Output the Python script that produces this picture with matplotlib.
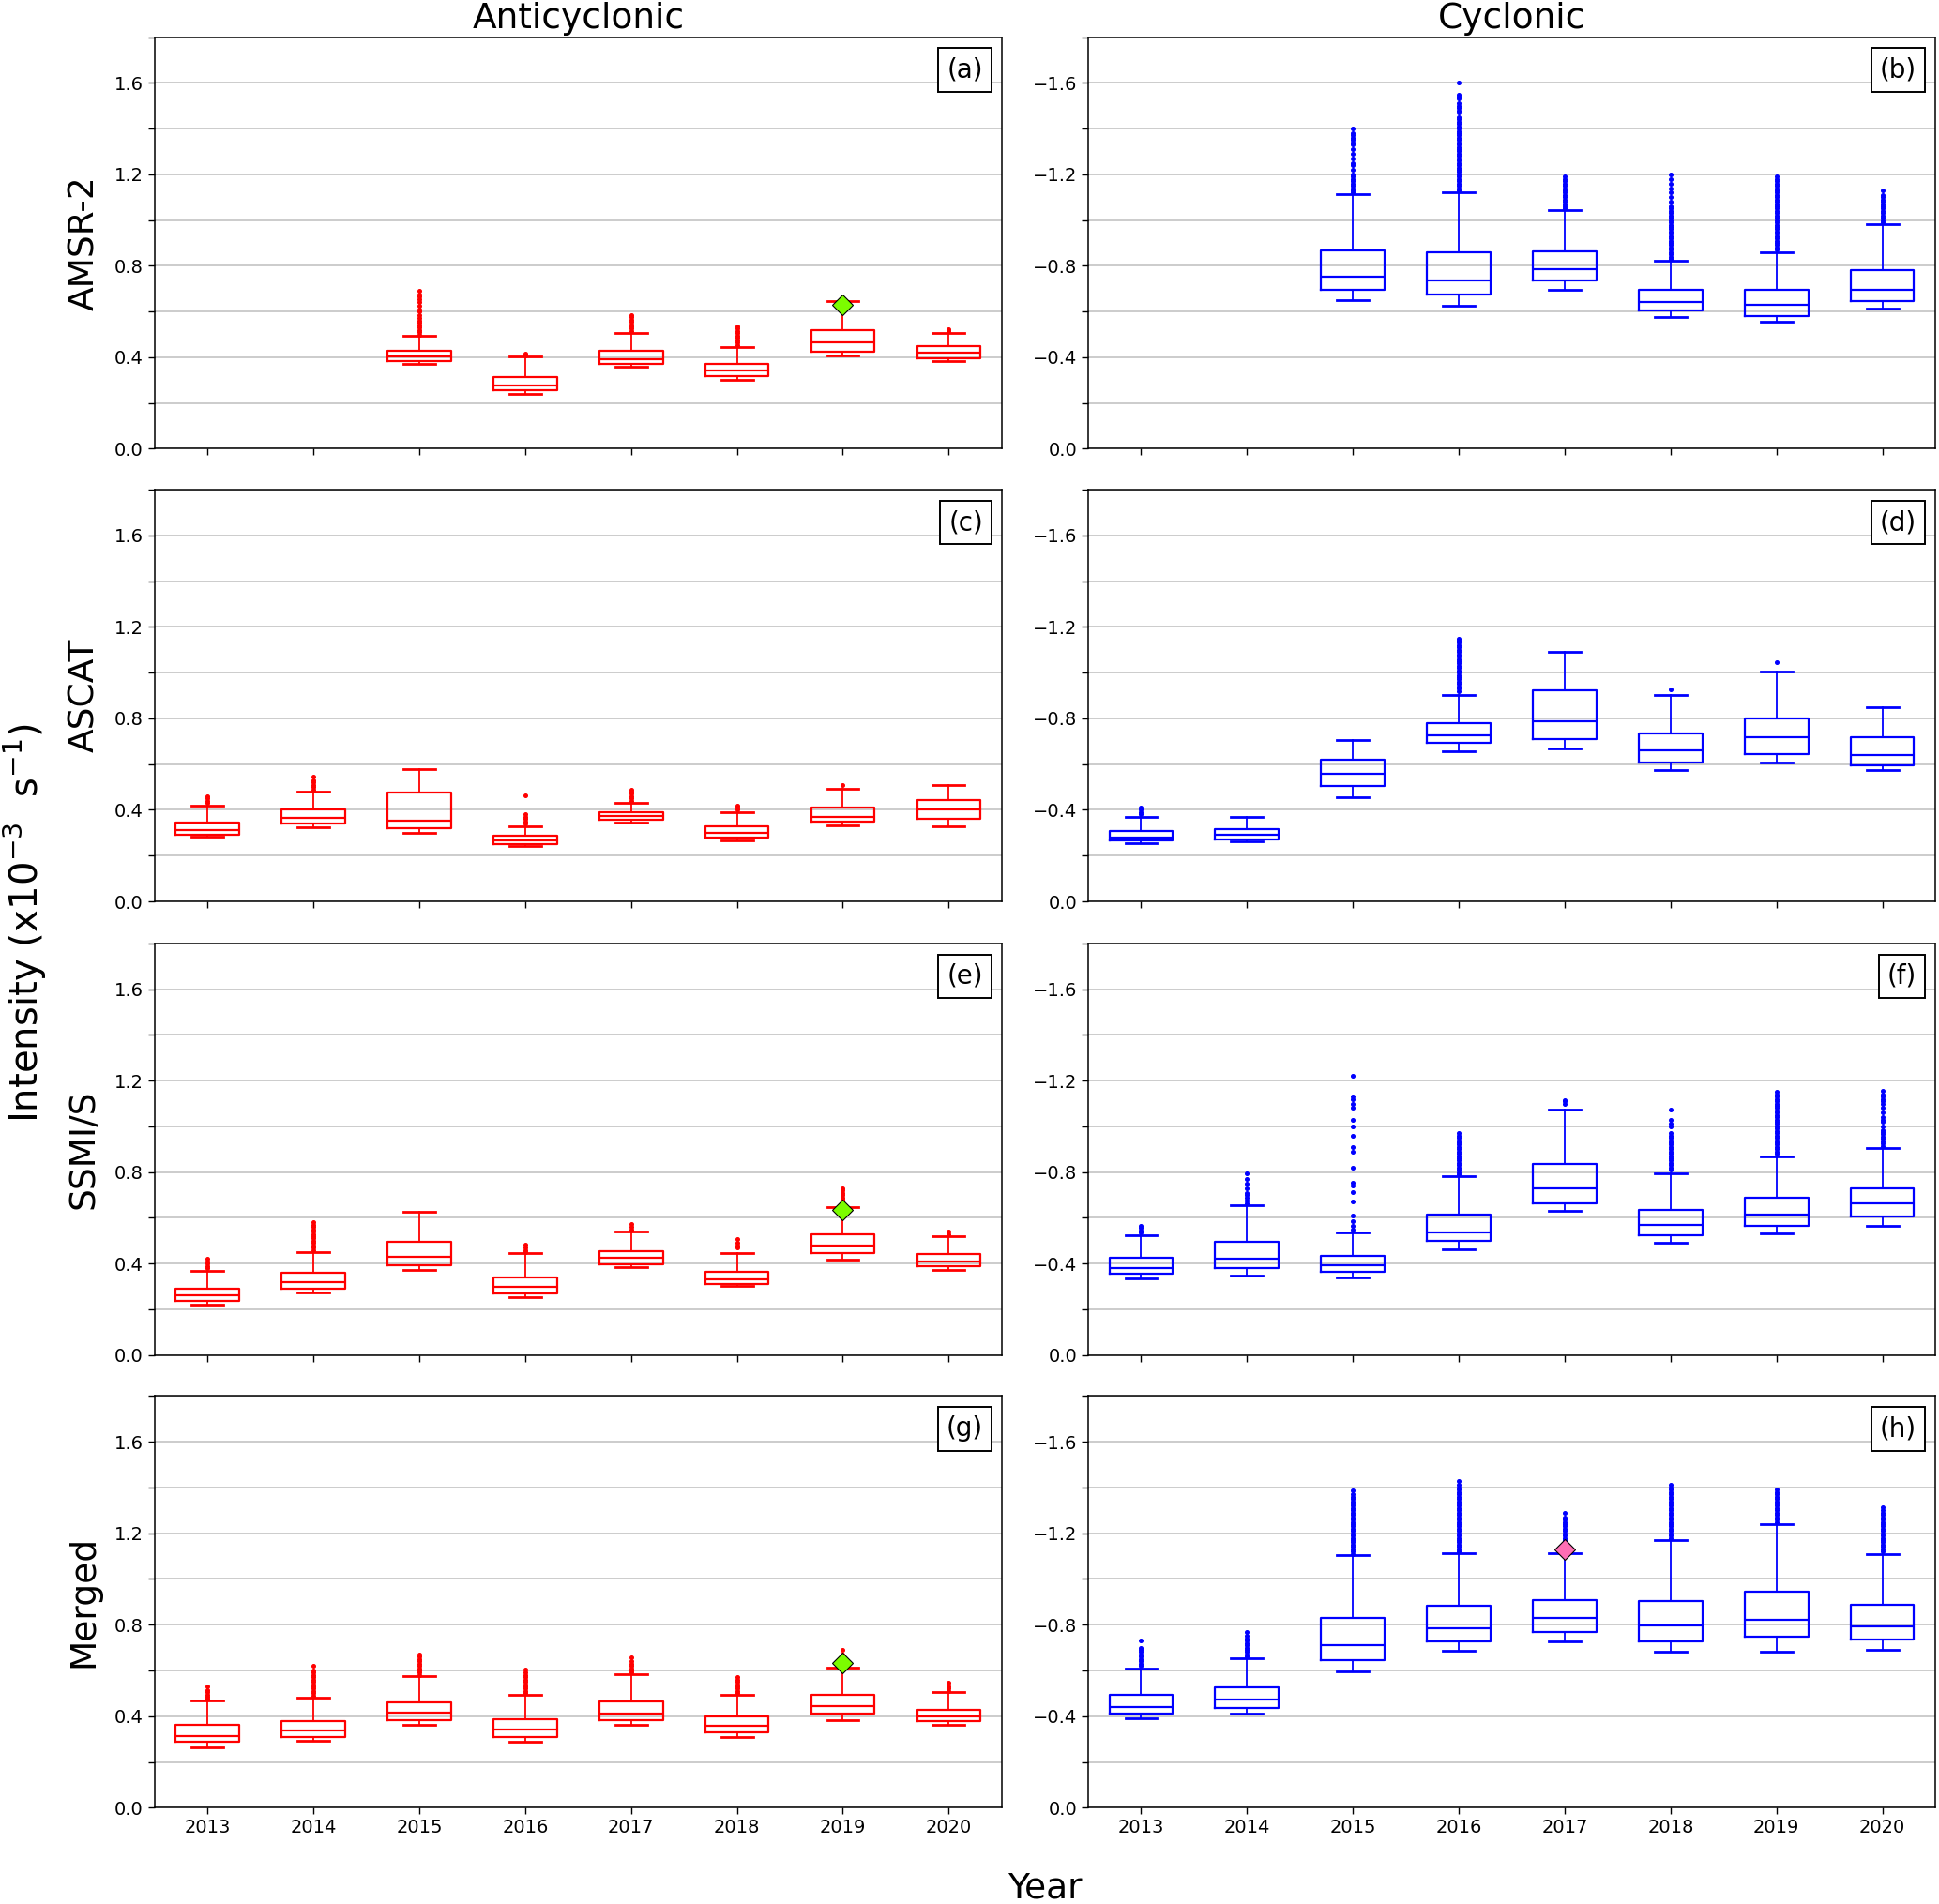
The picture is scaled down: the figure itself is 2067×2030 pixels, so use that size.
import numpy as np
import matplotlib.pyplot as plt
from matplotlib.ticker import MultipleLocator

years = [2013, 2014, 2015, 2016, 2017, 2018, 2019, 2020]
sensors = ['AMSR-2', 'ASCAT', 'SSMI/S', 'Merged']

# anticyclonic, AMSR-2 (no data 2013, 2014)
a_lo = [None, None, 0.370, 0.238, 0.359, 0.303, 0.408, 0.382]
a_q1 = [None, None, 0.383, 0.255, 0.371, 0.318, 0.424, 0.397]
a_med = [None, None, 0.404, 0.275, 0.392, 0.342, 0.464, 0.422]
a_q3 = [None, None, 0.427, 0.313, 0.427, 0.371, 0.519, 0.448]
a_hi = [None, None, 0.493, 0.402, 0.505, 0.445, 0.646, 0.505]
a_fl = [[], [],
        [0.50, 0.51, 0.52, 0.53, 0.54, 0.55, 0.56, 0.57, 0.585, 0.60, 0.61, 0.625, 0.64, 0.655, 0.665, 0.675, 0.69],
        [0.41, 0.415],
        [0.515, 0.525, 0.535, 0.545, 0.555, 0.565, 0.575, 0.586],
        [0.455, 0.465, 0.475, 0.485, 0.495, 0.505, 0.515, 0.525, 0.535],
        [],
        [0.515, 0.523]]

# cyclonic, AMSR-2 (magnitudes, plotted negative)
b_lo = [None, None, 0.649, 0.624, 0.695, 0.576, 0.554, 0.612]
b_q1 = [None, None, 0.695, 0.675, 0.738, 0.605, 0.582, 0.646]
b_med = [None, None, 0.754, 0.738, 0.786, 0.643, 0.628, 0.697]
b_q3 = [None, None, 0.867, 0.858, 0.862, 0.694, 0.697, 0.783]
b_hi = [None, None, 1.114, 1.121, 1.042, 0.823, 0.861, 0.983]
b_fl = [[], [],
        [1.12, 1.13, 1.14, 1.15, 1.16, 1.17, 1.18, 1.19, 1.20, 1.22, 1.24, 1.25, 1.27, 1.29, 1.31, 1.33, 1.34,
         1.35, 1.36, 1.37, 1.38, 1.40],
        [1.13, 1.14, 1.15, 1.16, 1.17, 1.18, 1.19, 1.20, 1.21, 1.22, 1.23, 1.24, 1.25, 1.26, 1.27, 1.28, 1.29,
         1.30, 1.31, 1.32, 1.33, 1.34, 1.35, 1.36, 1.37, 1.38, 1.39, 1.40, 1.41, 1.42, 1.43, 1.44, 1.45, 1.47,
         1.48, 1.49, 1.50, 1.51, 1.53, 1.54, 1.55, 1.60],
        [1.05, 1.06, 1.07, 1.08, 1.09, 1.10, 1.11, 1.12, 1.13, 1.14, 1.15, 1.16, 1.17, 1.18, 1.19],
        [0.83, 0.84, 0.85, 0.86, 0.87, 0.88, 0.89, 0.90, 0.91, 0.92, 0.93, 0.94, 0.95, 0.96, 0.97, 0.98, 0.99,
         1.00, 1.01, 1.02, 1.03, 1.04, 1.05, 1.06, 1.08, 1.10, 1.12, 1.14, 1.16, 1.18, 1.20],
        [0.87, 0.88, 0.89, 0.90, 0.91, 0.92, 0.93, 0.94, 0.95, 0.96, 0.97, 0.98, 0.99, 1.00, 1.01, 1.02, 1.03,
         1.04, 1.05, 1.06, 1.07, 1.08, 1.09, 1.10, 1.11, 1.12, 1.13, 1.14, 1.15, 1.16, 1.17, 1.18, 1.19],
        [0.99, 1.00, 1.01, 1.02, 1.03, 1.04, 1.05, 1.06, 1.07, 1.08, 1.09, 1.10, 1.11, 1.13]]

# anticyclonic, ASCAT
c_lo = [0.281, 0.326, 0.301, 0.242, 0.345, 0.268, 0.333, 0.329]
c_q1 = [0.290, 0.341, 0.318, 0.252, 0.356, 0.279, 0.349, 0.360]
c_med = [0.311, 0.364, 0.351, 0.267, 0.373, 0.300, 0.371, 0.403]
c_q3 = [0.345, 0.403, 0.474, 0.286, 0.390, 0.327, 0.412, 0.444]
c_hi = [0.420, 0.481, 0.578, 0.329, 0.430, 0.389, 0.493, 0.510]
c_fl = [[0.43, 0.44, 0.45, 0.458],
        [0.49, 0.50, 0.51, 0.52, 0.53, 0.545],
        [],
        [0.34, 0.35, 0.36, 0.37, 0.382, 0.464],
        [0.44, 0.45, 0.46, 0.47, 0.48, 0.489],
        [0.40, 0.41, 0.419],
        [0.508],
        []]

# cyclonic, ASCAT
d_lo = [0.253, 0.262, 0.455, 0.657, 0.667, 0.575, 0.609, 0.575]
d_q1 = [0.265, 0.272, 0.504, 0.693, 0.709, 0.605, 0.643, 0.596]
d_med = [0.277, 0.290, 0.559, 0.725, 0.786, 0.660, 0.717, 0.638]
d_q3 = [0.309, 0.316, 0.620, 0.780, 0.922, 0.736, 0.799, 0.717]
d_hi = [0.370, 0.370, 0.706, 0.904, 1.090, 0.902, 1.003, 0.848]
d_fl = [[0.38, 0.39, 0.40, 0.41],
        [],
        [],
        [0.92, 0.93, 0.94, 0.95, 0.96, 0.97, 0.98, 0.99, 1.00, 1.01, 1.02, 1.03, 1.04, 1.05, 1.06, 1.07, 1.08,
         1.09, 1.10, 1.11, 1.12, 1.13, 1.14, 1.148],
        [],
        [0.928],
        [1.044],
        []]

# anticyclonic, SSMI/S
e_lo = [0.220, 0.272, 0.372, 0.255, 0.384, 0.302, 0.419, 0.372]
e_q1 = [0.236, 0.290, 0.393, 0.270, 0.398, 0.311, 0.447, 0.387]
e_med = [0.260, 0.318, 0.430, 0.298, 0.425, 0.332, 0.480, 0.411]
e_q3 = [0.291, 0.358, 0.497, 0.340, 0.456, 0.366, 0.530, 0.441]
e_hi = [0.369, 0.451, 0.627, 0.444, 0.542, 0.444, 0.648, 0.519]
e_fl = [[0.38, 0.39, 0.40, 0.41, 0.421],
        [0.46, 0.47, 0.48, 0.49, 0.50, 0.51, 0.52, 0.53, 0.54, 0.55, 0.56, 0.57, 0.583],
        [],
        [0.45, 0.46, 0.47, 0.481],
        [0.55, 0.56, 0.575],
        [0.47, 0.48, 0.49, 0.508],
        [0.66, 0.67, 0.68, 0.69, 0.70, 0.71, 0.72, 0.731],
        [0.53, 0.542]]

# cyclonic, SSMI/S
f_lo = [0.336, 0.348, 0.341, 0.464, 0.630, 0.493, 0.533, 0.565]
f_q1 = [0.354, 0.380, 0.363, 0.498, 0.663, 0.524, 0.567, 0.605]
f_med = [0.381, 0.420, 0.392, 0.536, 0.728, 0.569, 0.615, 0.663]
f_q3 = [0.424, 0.495, 0.434, 0.615, 0.834, 0.633, 0.690, 0.728]
f_hi = [0.524, 0.656, 0.537, 0.782, 1.073, 0.796, 0.868, 0.905]
f_fl = [[0.535, 0.545, 0.555, 0.567],
        [0.665, 0.675, 0.69, 0.70, 0.71, 0.73, 0.75, 0.77, 0.793],
        [0.55, 0.565, 0.585, 0.61, 0.67, 0.714, 0.741, 0.755, 0.82, 0.887, 0.909, 0.959, 1.0, 1.027, 1.082,
         1.10, 1.12, 1.13, 1.22],
        [0.79, 0.80, 0.81, 0.82, 0.83, 0.84, 0.85, 0.86, 0.87, 0.88, 0.89, 0.90, 0.91, 0.92, 0.93, 0.94, 0.95,
         0.96, 0.97],
        [1.10, 1.11, 1.116],
        [0.81, 0.82, 0.83, 0.84, 0.85, 0.86, 0.87, 0.88, 0.89, 0.90, 0.91, 0.92, 0.93, 0.94, 0.95, 0.96, 0.97,
         1.00, 1.01, 1.03, 1.075],
        [0.88, 0.89, 0.90, 0.91, 0.92, 0.93, 0.94, 0.95, 0.96, 0.97, 0.98, 0.99, 1.00, 1.01, 1.02, 1.03, 1.04,
         1.05, 1.06, 1.07, 1.08, 1.09, 1.10, 1.11, 1.12, 1.13, 1.14, 1.152],
        [0.915, 0.925, 0.935, 0.945, 0.955, 0.965, 0.975, 0.985, 1.00, 1.02, 1.03, 1.04, 1.06, 1.08, 1.10, 1.11,
         1.12, 1.13, 1.14, 1.156]]

# anticyclonic, merged
g_lo = [0.265, 0.292, 0.361, 0.288, 0.363, 0.310, 0.383, 0.361]
g_q1 = [0.287, 0.309, 0.381, 0.309, 0.381, 0.331, 0.410, 0.377]
g_med = [0.313, 0.336, 0.414, 0.342, 0.411, 0.358, 0.445, 0.399]
g_q3 = [0.361, 0.380, 0.459, 0.388, 0.464, 0.399, 0.492, 0.426]
g_hi = [0.467, 0.481, 0.574, 0.492, 0.583, 0.492, 0.612, 0.504]
g_fl = [[0.475, 0.485, 0.495, 0.505, 0.515, 0.53],
        [0.49, 0.50, 0.51, 0.52, 0.53, 0.54, 0.55, 0.56, 0.57, 0.58, 0.59, 0.60, 0.62],
        [0.58, 0.59, 0.60, 0.61, 0.62, 0.63, 0.64, 0.65, 0.66, 0.668],
        [0.50, 0.51, 0.52, 0.53, 0.54, 0.55, 0.56, 0.57, 0.58, 0.59, 0.604],
        [0.59, 0.60, 0.61, 0.62, 0.63, 0.64, 0.657],
        [0.50, 0.51, 0.52, 0.53, 0.54, 0.55, 0.56, 0.57],
        [0.62, 0.63, 0.64, 0.65, 0.66, 0.67, 0.689],
        [0.51, 0.52, 0.53, 0.548]]

# cyclonic, merged
h_lo = [0.392, 0.410, 0.596, 0.688, 0.726, 0.684, 0.684, 0.691]
h_q1 = [0.413, 0.435, 0.646, 0.729, 0.769, 0.726, 0.747, 0.734]
h_med = [0.442, 0.474, 0.710, 0.783, 0.829, 0.796, 0.822, 0.792]
h_q3 = [0.492, 0.526, 0.831, 0.884, 0.909, 0.904, 0.945, 0.886]
h_hi = [0.609, 0.652, 1.103, 1.112, 1.112, 1.172, 1.241, 1.109]
h_fl = [[0.62, 0.63, 0.64, 0.65, 0.66, 0.67, 0.68, 0.69, 0.70, 0.73],
        [0.66, 0.67, 0.68, 0.69, 0.70, 0.71, 0.72, 0.73, 0.74, 0.75, 0.767],
        [1.11, 1.12, 1.13, 1.14, 1.15, 1.16, 1.17, 1.18, 1.19, 1.20, 1.21, 1.22, 1.23, 1.24, 1.25, 1.26, 1.27,
         1.28, 1.29, 1.30, 1.31, 1.32, 1.33, 1.34, 1.35, 1.36, 1.37, 1.387],
        [1.12, 1.13, 1.14, 1.15, 1.16, 1.17, 1.18, 1.19, 1.20, 1.21, 1.22, 1.23, 1.24, 1.25, 1.26, 1.27, 1.28,
         1.29, 1.30, 1.31, 1.32, 1.33, 1.34, 1.35, 1.36, 1.37, 1.38, 1.39, 1.40, 1.41, 1.43],
        [1.12, 1.13, 1.14, 1.15, 1.16, 1.17, 1.18, 1.19, 1.20, 1.21, 1.22, 1.23, 1.24, 1.25, 1.26, 1.27, 1.287],
        [1.18, 1.19, 1.20, 1.21, 1.22, 1.23, 1.24, 1.25, 1.26, 1.27, 1.28, 1.29, 1.30, 1.31, 1.32, 1.33, 1.34,
         1.35, 1.36, 1.37, 1.38, 1.39, 1.40, 1.411],
        [1.25, 1.26, 1.27, 1.28, 1.29, 1.30, 1.31, 1.32, 1.33, 1.34, 1.35, 1.36, 1.37, 1.38, 1.391],
        [1.12, 1.13, 1.14, 1.15, 1.16, 1.17, 1.18, 1.19, 1.20, 1.21, 1.22, 1.23, 1.24, 1.25, 1.26, 1.27, 1.28,
         1.29, 1.30, 1.313]]

# highlighted values (diamonds): panel, year, value
marks = [('a', 2019, 0.631, '#7cfc00'), ('e', 2019, 0.635, '#7cfc00'),
         ('g', 2019, 0.631, '#7cfc00'), ('h', 2017, -1.13, '#ff6eb4')]

panels = {
    'a': (a_lo, a_q1, a_med, a_q3, a_hi, a_fl),
    'b': (b_lo, b_q1, b_med, b_q3, b_hi, b_fl),
    'c': (c_lo, c_q1, c_med, c_q3, c_hi, c_fl),
    'd': (d_lo, d_q1, d_med, d_q3, d_hi, d_fl),
    'e': (e_lo, e_q1, e_med, e_q3, e_hi, e_fl),
    'f': (f_lo, f_q1, f_med, f_q3, f_hi, f_fl),
    'g': (g_lo, g_q1, g_med, g_q3, g_hi, g_fl),
    'h': (h_lo, h_q1, h_med, h_q3, h_hi, h_fl),
}

fig = plt.figure(figsize=(20.67, 20.30), dpi=100)

col_x = [0.0797, 0.5612]
row_y = [0.7643, 0.5266, 0.2883, 0.0506]
w, h = 0.4369, 0.2162
letters = [['a', 'b'], ['c', 'd'], ['e', 'f'], ['g', 'h']]

for r in range(4):
    for c in range(2):
        key = letters[r][c]
        ax = fig.add_axes([col_x[c], row_y[r], w, h])
        lo, q1, med, q3, hi, fl = panels[key]
        color = 'red' if c == 0 else 'blue'
        sign = 1 if c == 0 else -1
        stats = []
        pos = []
        for i in range(len(years)):
            if med[i] is None:
                continue
            stats.append(dict(med=sign * med[i], q1=sign * q1[i], q3=sign * q3[i],
                              whislo=sign * lo[i], whishi=sign * hi[i],
                              fliers=[sign * v for v in fl[i]]))
            pos.append(i + 1)
        ax.bxp(stats, positions=pos, widths=0.6,
               boxprops=dict(color=color, lw=1.6),
               whiskerprops=dict(color=color, lw=1.3),
               capprops=dict(color=color, lw=2.0),
               medianprops=dict(color=color, lw=1.6),
               flierprops=dict(marker='o', markerfacecolor=color, markeredgecolor=color,
                               markersize=2.6, linestyle='none'))
        for p, yr, val, mc in marks:
            if p == key:
                ax.plot(years.index(yr) + 1, val, marker='D', markersize=11,
                        markerfacecolor=mc, markeredgecolor='black', markeredgewidth=0.8,
                        linestyle='none', zorder=5)

        ax.set_xlim(0.5, 8.5)
        if c == 0:
            ax.set_ylim(0, 1.8)
        else:
            ax.set_ylim(0, -1.8)
        ax.yaxis.set_major_locator(MultipleLocator(0.4))
        ax.yaxis.set_minor_locator(MultipleLocator(0.2))
        ax.yaxis.grid(True, which='both', color='#c8c8c8', lw=1.3)
        ax.set_axisbelow(True)
        ax.set_xticks(range(1, 9))
        if r == 3:
            ax.set_xticklabels([str(y) for y in years])
        else:
            ax.set_xticklabels([])
        ax.tick_params(axis='both', which='both', labelsize=14, length=5, width=1.0)
        for s in ax.spines.values():
            s.set_linewidth(1.1)

        if r == 0:
            ax.set_title('Anticyclonic' if c == 0 else 'Cyclonic', fontsize=27, pad=7)
        if c == 0:
            ax.set_ylabel(sensors[r], fontsize=27)
            ax.yaxis.set_label_coords(-0.063, 0.5)

        ax.text(0.978, 0.952, '(' + key + ')', transform=ax.transAxes, ha='right', va='top',
                fontsize=20, bbox=dict(boxstyle='square,pad=0.33', fc='white', ec='black', lw=1.4))

fig.text(0.013, 0.515, 'Intensity (x10$^{-3}$  s$^{-1}$)', rotation=90, ha='center', va='center',
         fontsize=29)
fig.text(0.539, 0.003, 'Year', ha='center', va='baseline', fontsize=27)

fig.savefig('out.png', dpi=100)
